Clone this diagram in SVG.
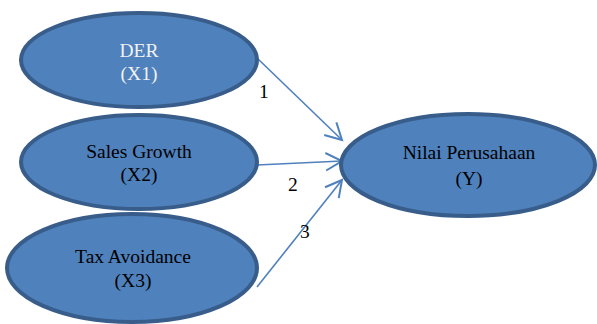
<svg xmlns="http://www.w3.org/2000/svg" width="597" height="324" viewBox="0 0 597 324">
<style>
.node ellipse{fill:#4f81bd;stroke:#385d8a;stroke-width:4}
.t{font-family:"Liberation Serif","Times New Roman","DejaVu Serif",serif;font-size:19.5px;text-anchor:middle;fill:#000}
.w{fill:#f2f2f2}
.c line{stroke:#4f81bd;stroke-width:1.6;fill:none}
.lbl{font-family:"Liberation Serif","Times New Roman","DejaVu Serif",serif;font-size:19.5px;fill:#000}
</style>
<defs>
<marker id="ah" markerUnits="userSpaceOnUse" markerWidth="20" markerHeight="20" viewBox="-14 -8 16 16" refX="0" refY="0" orient="auto">
<path d="M-13,-7 L0,0 L-13,7" fill="none" stroke="#4f81bd" stroke-width="1.6"/>
</marker>
</defs>
<rect width="597" height="324" fill="#fff"/>
<g id="connectors" class="c">
<line x1="257" y1="58" x2="342" y2="140" marker-end="url(#ah)"/>
<line x1="257" y1="165" x2="342" y2="161" marker-end="url(#ah)"/>
<line x1="257" y1="287" x2="342" y2="180" marker-end="url(#ah)"/>
</g>
<g id="labels">
<text class="lbl" x="259" y="98">1</text>
<text class="lbl" x="288" y="191">2</text>
<text class="lbl" x="300" y="238">3</text>
</g>
<g id="node-x1" class="node">
<ellipse cx="139" cy="60" rx="118" ry="47"/>
<text class="t w" x="139" y="57">DER</text>
<text class="t w" x="139" y="80">(X1)</text>
</g>
<g id="node-x2" class="node">
<ellipse cx="139" cy="162" rx="118" ry="47"/>
<text class="t" x="139" y="158">Sales Growth</text>
<text class="t" x="139" y="181">(X2)</text>
</g>
<g id="node-x3" class="node">
<ellipse cx="132" cy="268" rx="125" ry="54"/>
<text class="t" x="133" y="263">Tax Avoidance</text>
<text class="t" x="133" y="287">(X3)</text>
</g>
<g id="node-y" class="node">
<ellipse cx="468" cy="165" rx="127" ry="51"/>
<text class="t" x="469" y="159">Nilai Perusahaan</text>
<text class="t" x="469" y="185">(Y)</text>
</g>
</svg>
